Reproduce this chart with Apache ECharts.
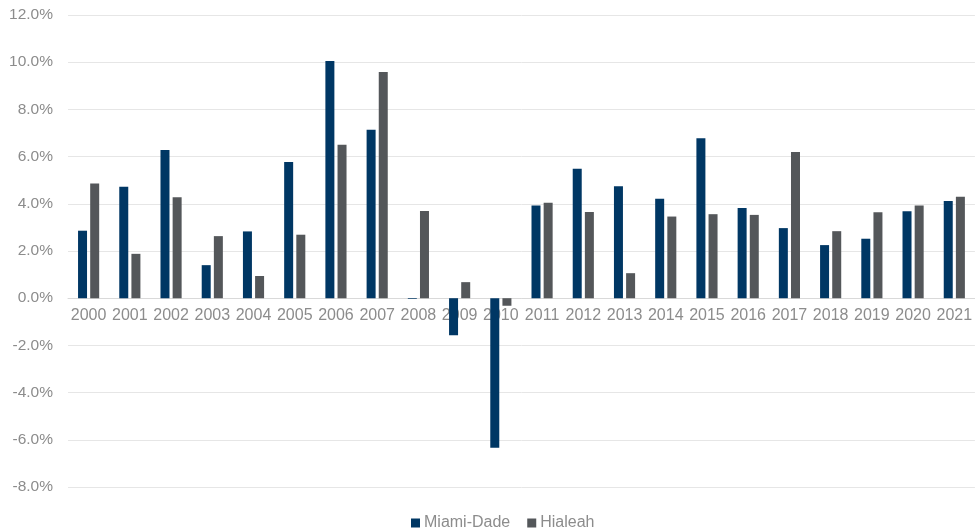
<!DOCTYPE html>
<html><head><meta charset="utf-8">
<script src="https://cdn.jsdelivr.net/npm/echarts@6/dist/echarts.min.js"></script>
<style>html,body{margin:0;padding:0;background:#fff}#c{width:975px;height:529px}</style>
</head><body><div id="c"></div>
<script>
const categories = ['2000','2001','2002','2003','2004','2005','2006','2007','2008','2009','2010','2011','2012','2013','2014','2015','2016','2017','2018','2019','2020','2021'];
const miamiDade = [2.86, 4.72, 6.28, 1.40, 2.83, 5.77, 10.05, 7.14, -0.03, -1.57, -6.34, 3.93, 5.48, 4.74, 4.21, 6.78, 3.82, 2.97, 2.25, 2.52, 3.68, 4.12];
const hialeah = [4.86, 1.88, 4.28, 2.63, 0.94, 2.69, 6.50, 9.58, 3.69, 0.68, -0.32, 4.04, 3.65, 1.06, 3.46, 3.56, 3.53, 6.20, 2.84, 3.64, 3.93, 4.30];
const yTicks = {min: -8, max: 12, interval: 2};

const gridTop = 15, gridHeight = 472;
// distance from the bottom of the grid to the zero value
const zeroOffset = gridHeight * (0 - yTicks.min) / (yTicks.max - yTicks.min);

const chart = echarts.init(document.getElementById('c'));
chart.setOption({
  animation: false,
  textStyle: {fontFamily: 'Liberation Sans, Arial, sans-serif'},
  grid: {left: 68, top: gridTop, width: 912, height: gridHeight, containLabel: false},
  legend: {
    bottom: -7, left: 406,
    icon: 'rect', itemWidth: 9, itemHeight: 9, itemGap: 17,
    textStyle: {color: '#8c8c8c', fontSize: 16, padding: [0,0,0,-1]},
    data: ['Miami-Dade', 'Hialeah']
  },
  xAxis: {
    type: 'category', data: categories, z: 0,
    offset: -zeroOffset,
    axisLine: {onZero: false, lineStyle: {color: '#d9d9d9', width: 1}},
    axisTick: {show: false},
    axisLabel: {color: '#8c8c8c', fontSize: 16, margin: 9, interval: 0}
  },
  yAxis: {
    type: 'value', min: yTicks.min, max: yTicks.max, interval: yTicks.interval, z: 0,
    axisLine: {show: false}, axisTick: {show: false},
    splitLine: {lineStyle: {color: '#e6e6e6', width: 1}},
    axisLabel: {color: '#8c8c8c', fontSize: 15.5, margin: 15, formatter: v => v.toFixed(1) + '%'}
  },
  series: [
    {name: 'Miami-Dade', type: 'bar', z: 10, data: miamiDade, barWidth: 9, barGap: '35%', itemStyle: {color: '#003764'}},
    {name: 'Hialeah', type: 'bar', z: 10, data: hialeah, barWidth: 9, barGap: '35%', itemStyle: {color: '#54575a'}}
  ]
});
</script></body></html>
